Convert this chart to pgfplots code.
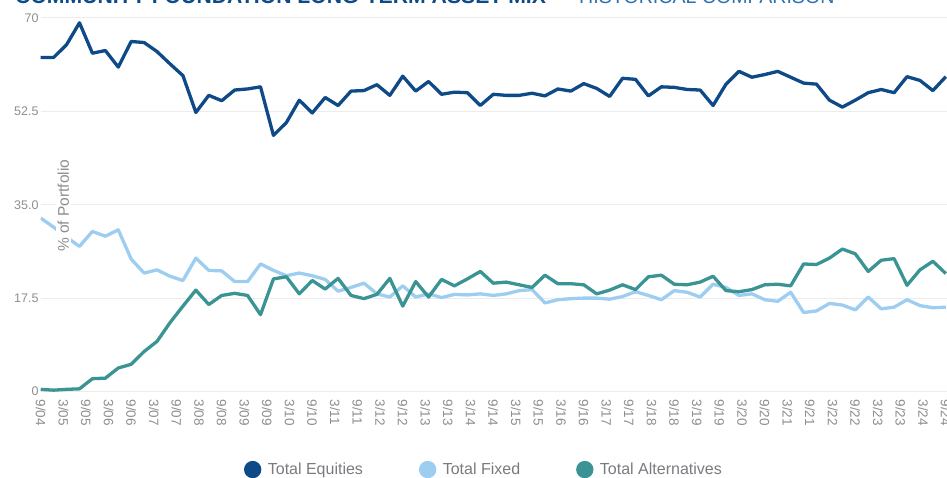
\documentclass[border=0pt]{standalone}
\usepackage{fontspec}
\setmainfont{Liberation Sans}
\usepackage{pgfplots}
\usepackage{pgfplotstable}
\pgfplotsset{compat=1.18}
\definecolor{eqc}{HTML}{0E4A87}
\definecolor{fixc}{HTML}{9DCDF0}
\definecolor{altc}{HTML}{3A9494}
\definecolor{gridc}{HTML}{ECECEC}
\definecolor{tickc}{HTML}{8E8E8E}
\definecolor{legc}{HTML}{7A7A80}
\definecolor{titlelight}{HTML}{2F6FB0}
\pgfplotstableread{
eq fix alt
62.6 32.5 0.4
62.6 30.8 0.25
65.0 28.9 0.4
69.1 27.2 0.5
63.4 30.0 2.4
63.9 29.1 2.5
60.8 30.3 4.4
65.6 24.8 5.1
65.4 22.2 7.5
63.7 22.8 9.4
61.4 21.6 12.9
59.2 20.8 16.0
52.3 25.0 19.0
55.5 22.7 16.3
54.5 22.6 18.0
56.5 20.6 18.4
56.7 20.6 18.0
57.1 23.9 14.4
48.0 22.7 21.1
50.4 21.7 21.5
54.6 22.2 18.3
52.2 21.7 20.8
55.1 21.0 19.2
53.6 18.8 21.2
56.3 19.5 18.0
56.4 20.3 17.4
57.5 18.3 18.2
55.5 17.7 21.2
59.1 19.8 16.0
56.3 17.7 20.6
58.1 18.3 17.7
55.7 17.6 21.0
56.1 18.2 19.8
56.0 18.1 21.1
53.6 18.3 22.5
55.7 18.0 20.3
55.5 18.3 20.5
55.5 18.9 20.0
55.9 19.1 19.5
55.4 16.6 21.8
56.7 17.2 20.2
56.3 17.4 20.2
57.7 17.5 20.0
56.8 17.5 18.3
55.3 17.3 19.0
58.7 17.8 20.0
58.5 18.7 19.1
55.4 18.0 21.5
57.1 17.2 21.8
57.0 18.9 20.1
56.6 18.6 20.0
56.5 17.7 20.5
53.6 20.1 21.6
57.6 19.5 18.9
60.0 18.0 18.7
58.9 18.3 19.1
59.4 17.2 20.0
60.0 16.9 20.1
58.9 18.6 19.8
57.8 14.8 23.9
57.6 15.1 23.8
54.6 16.5 25.0
53.3 16.2 26.7
54.6 15.3 25.8
56.0 17.7 22.5
56.6 15.5 24.6
56.0 15.8 24.9
59.0 17.2 19.9
58.3 16.1 22.8
56.4 15.7 24.4
59.0 15.8 22.1
}\datatable
\begin{document}
\begin{tikzpicture}
\useasboundingbox (0,0) rectangle (947pt,478pt);
\clip (0,0) rectangle (947pt,478pt);
\node[anchor=base west, inner sep=0pt, font=\fontsize{21.2}{24}\selectfont\bfseries, text=eqc] at (15pt,474.5pt) {COMMUNITY FOUNDATION LONG-TERM ASSET MIX};
\node[anchor=base west, inner sep=0pt, font=\fontsize{19.6}{24}\selectfont, text=titlelight] at (554pt,474.5pt) {— HISTORICAL COMPARISON};
\begin{axis}[
  at={(40.7pt,86.5pt)}, anchor=south west,
  scale only axis, width=906.4pt, height=373.5pt,
  xmin=0, xmax=70.1, ymin=0, ymax=70,
  axis line style={draw=none},
  major tick length=0pt,
  ytick={0,17.5,35,52.5,70},
  yticklabels={0,17.5,35.0,52.5,70},
  ymajorgrids,
  grid style={gridc, line width=1pt},
  xtick={0,1.75,...,70.01},
  xticklabels={9/04,3/05,9/05,3/06,9/06,3/07,9/07,3/08,9/08,3/09,9/09,3/10,9/10,3/11,9/11,3/12,9/12,3/13,9/13,3/14,9/14,3/15,9/15,3/16,9/16,3/17,9/17,3/18,9/18,3/19,9/19,3/20,9/20,3/21,9/21,3/22,9/22,3/23,9/23,3/24,9/24},
  xticklabel style={rotate=-90, anchor=west, inner sep=0pt, font=\fontsize{13.5}{15}\selectfont, text=tickc},
  xticklabel shift=8pt,
  yticklabel style={anchor=east, inner sep=0pt, font=\fontsize{12.5}{14}\selectfont, text=tickc},
  yticklabel shift=2pt,
  legend columns=3,
  legend style={at={(0.489,-0.209)}, anchor=center, draw=none, fill=none,
    font=\fontsize{16}{18}\selectfont, text=legc,
    /tikz/every odd column/.append style={column sep=4.5pt},
    /tikz/every even column/.append style={column sep=54pt}},
  legend cell align=left,
  legend image code/.code={\fill[#1] (0pt,0pt) circle (7pt);},
]
\addplot[eqc, line width=3.3pt, line join=round] table[x expr=\coordindex, y=eq] {\datatable};
\addlegendentry{Total Equities}
\addplot[fixc, line width=3.3pt, line join=round] table[x expr=\coordindex, y=fix] {\datatable};
\addlegendentry{Total Fixed}
\addplot[altc, line width=3.3pt, line join=round] table[x expr=\coordindex, y=alt] {\datatable};
\addlegendentry{Total Alternatives}
\node[rotate=90, fill=white, inner sep=1.5pt, text=tickc, font=\fontsize{15.5}{18}\selectfont] at (axis cs:1.76,34.8) {\% of Portfolio};
\end{axis}
\end{tikzpicture}
\end{document}
